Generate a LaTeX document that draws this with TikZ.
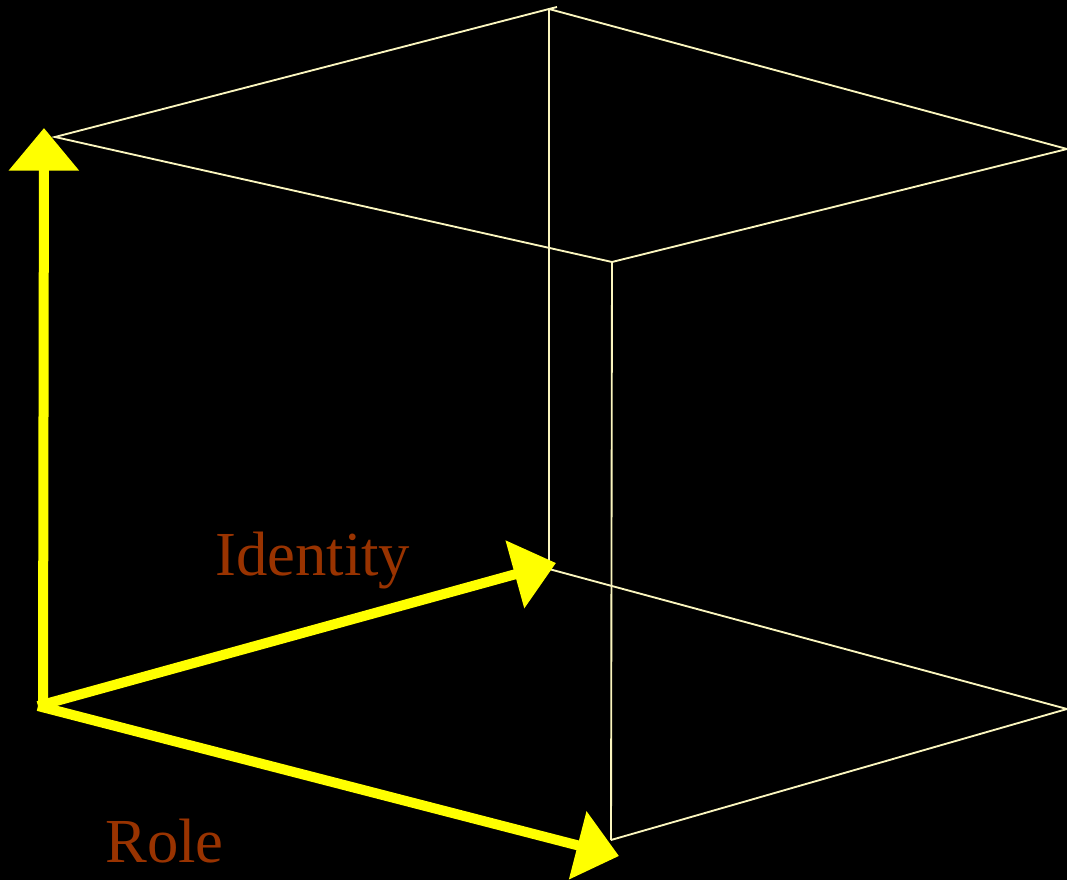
\documentclass[tikz,border=0pt]{standalone}
\usepackage{fontspec}
\setmainfont{Liberation Serif}
\usetikzlibrary{arrows.meta}

\definecolor{edgecol}{RGB}{250,245,190}
\definecolor{axiscol}{RGB}{255,255,0}
\definecolor{labelcol}{RGB}{153,51,0}

\tikzset{
  edge/.style={draw=edgecol, line width=1.4pt},
  axis/.style={draw=axiscol, line width=7.5pt,
    -{Triangle[width=51pt,length=32pt]}},
  axislabel/.style={text=labelcol, font=\fontsize{47}{50}\selectfont,
    inner sep=0pt, anchor=base west}
}

\begin{document}
\begin{tikzpicture}[x=0.75pt,y=-0.75pt]
\fill[black] (0,0) rectangle (1067,880);
\useasboundingbox (0,0) rectangle (1067,880);
% cube corners
\coordinate (tl) at (55,137);
\coordinate (tb) at (549,9);
\coordinate (tr) at (1067,149);
\coordinate (tf) at (612,262);
\coordinate (bb) at (549,569);
\coordinate (br) at (1067,709);
\coordinate (bf) at (611,840);
\coordinate (o) at (43,705);
\coordinate (up) at (44,128);
\coordinate (idtip) at (556,563);
\coordinate (roletip) at (619,856);
% wire frame
\draw[edge] (tl) -- (tb) -- (tr) -- (tf) -- cycle;
\draw[edge] (tb) -- (bb) -- (br) -- (bf);
\draw[edge] (tf) -- (bf);
\draw[edge] (tb) -- (557,7);
% axes
\draw[axis] (o) -- (up);
\draw[axis] (38,706) -- (idtip);
\draw[axis] (38,706) -- (roletip);
\node[axislabel] (identity) at (215,575) {Identity};
\node[axislabel] (role) at (105,862) {Role};
\end{tikzpicture}
\end{document}
